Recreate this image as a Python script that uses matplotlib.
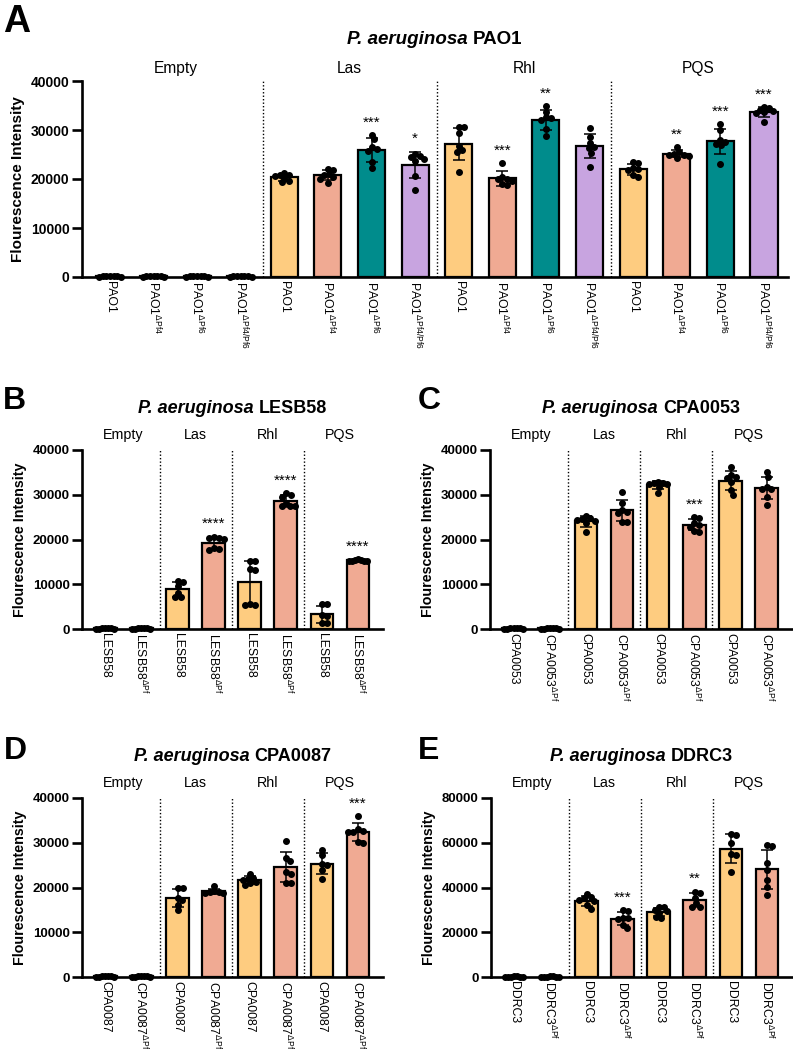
import numpy as np
import matplotlib
matplotlib.use('Agg')
import matplotlib.pyplot as plt
from matplotlib import rc
from matplotlib.offsetbox import TextArea, HPacker, AnnotationBbox

rc('font', family=['Liberation Sans', 'DejaVu Sans'], size=10)
rc('mathtext', default='regular')

YELLOW = '#FECC80'
SALMON = '#F0AA93'
TEAL = '#008C8C'
PURPLE = '#C8A4E0'

groups = ['Empty', 'Las', 'Rhl', 'PQS']

# --- A: PAO1 ---
pao1_labels = ['PAO1', 'PAO1$^{ΔPf4}$', 'PAO1$^{ΔPf6}$', 'PAO1$^{ΔPf4/Pf6}$'] * 4
pao1_vals = [
    [120, 90, 150, 110, 130, 100, 140],
    [110, 130, 90, 150, 120, 100, 140],
    [130, 100, 120, 150, 90, 110, 140],
    [100, 140, 120, 90, 130, 150, 110],
    [21300, 20800, 20900, 20600, 19300, 19600, 20200],
    [22000, 21800, 20500, 20900, 19200, 20100, 21000],
    [29000, 28100, 26600, 26200, 25800, 23400, 22200],
    [25100, 24600, 24100, 23600, 24400, 17800, 20700],
    [30600, 30600, 29300, 26800, 26000, 25600, 21400],
    [23200, 20400, 20100, 19900, 19600, 18800, 18900],
    [34900, 33700, 32600, 32500, 32100, 30300, 28800],
    [30500, 28600, 27300, 26600, 26300, 25400, 22500],
    [23400, 23200, 22200, 21800, 20800, 20500, 22000],
    [26500, 25600, 25200, 24900, 24600, 24300, 25000],
    [31200, 30100, 27900, 27600, 26900, 23100, 27200],
    [34700, 34500, 34100, 33800, 33400, 31700, 33600],
]
pao1_sig = ['', '', '', '', '', '', '***', '*', '', '***', '**', '', '', '**', '***', '***']

# --- B: LESB58 ---
lesb_labels = ['LESB58', 'LESB58$^{ΔPf}$'] * 4
lesb_vals = [
    [110, 140, 90, 130, 120, 100, 150],
    [130, 100, 150, 120, 90, 140, 110],
    [10800, 10600, 9500, 8000, 7100, 7100],
    [20600, 20400, 20200, 18000, 17800, 17700, 20300],
    [15200, 15100, 13400, 13200, 5400, 5500, 5400],
    [30300, 30000, 29600, 27500, 27500, 27400, 28200],
    [5600, 5500, 3200, 1300, 1400, 2800],
    [15600, 15500, 15400, 15300, 15200, 15100, 15300],
]
lesb_sig = ['', '', '', '****', '', '****', '', '****']

# --- C: CPA0053 ---
cpa53_labels = ['CPA0053', 'CPA0053$^{ΔPf}$'] * 4
cpa53_vals = [
    [120, 100, 140, 90, 130, 110, 150],
    [100, 130, 120, 150, 90, 140, 110],
    [25300, 24800, 24400, 24200, 23600, 21600, 24500],
    [30700, 28100, 26500, 26200, 26000, 24000, 23900],
    [32900, 32700, 32400, 32300, 31800, 30300, 32600],
    [25000, 24800, 23600, 22900, 21600, 22000, 23300],
    [36100, 34400, 34000, 33700, 32900, 30000, 31000],
    [35000, 33900, 31800, 31300, 29600, 27700, 31200],
]
cpa53_sig = ['', '', '', '', '', '***', '', '']

# --- D: CPA0087 ---
cpa87_labels = ['CPA0087', 'CPA0087$^{ΔPf}$'] * 4
cpa87_vals = [
    [110, 150, 120, 90, 140, 100, 130],
    [140, 110, 90, 130, 100, 150, 120],
    [20000, 19800, 17600, 17100, 16200, 14900],
    [20300, 19200, 18900, 18800, 18700, 19000],
    [23100, 22200, 21600, 21300, 20900, 20500, 22000],
    [30500, 26500, 26000, 23500, 23100, 21100, 21000],
    [28400, 27200, 25300, 25100, 23800, 22000],
    [35900, 33000, 32700, 32400, 30200, 30000, 32300],
]
cpa87_sig = ['', '', '', '', '', '', '', '***']

# --- E: DDRC3 ---
ddrc3_labels = ['DDRC3', 'DDRC3$^{ΔPf}$'] * 4
ddrc3_vals = [
    [200, 150, 250, 180, 220, 160, 240],
    [170, 230, 190, 250, 150, 210, 200],
    [37100, 35900, 35100, 34400, 32100, 30600, 34000],
    [29900, 29600, 26200, 25800, 23200, 21700, 26500],
    [31400, 31100, 29900, 28700, 26500, 27000, 29500],
    [38100, 37400, 35100, 32900, 31400, 31500],
    [64000, 63500, 55000, 54600, 47100, 60000],
    [59000, 58600, 51100, 47800, 43300, 40400, 36600],
]
ddrc3_sig = ['', '', '', '***', '', '**', '', '']

W, H = 793, 1049
fig = plt.figure(figsize=(W / 100, H / 100), dpi=100)


def px_rect(l, t, r, b):
    return [l / W, 1 - b / H, (r - l) / W, (b - t) / H]


def swarm(vals, px_y, px_x, dot=5.0, max_span=0.5):
    # simple beeswarm: each dot goes as close to the centre as it can without overlap,
    # then squeeze it if it gets wider than the bar
    ys = np.asarray(vals, float) * px_y
    cand = np.concatenate([[0], np.repeat(np.arange(0.5, 40, 0.5), 2) * np.tile([1, -1], 79)])
    placed = []
    offs = np.zeros(len(ys))
    for i in np.argsort(-ys):
        for c in cand:
            if all(np.hypot(c - px, ys[i] - py) >= dot for px, py in placed):
                offs[i] = c
                placed.append((c, ys[i]))
                break
    offs = offs / px_x
    span = offs.max() - offs.min()
    if span > max_span:
        offs = offs * max_span / span
    return offs


def panel(box, letter, letter_xy, strain, labels, vals, sig, colors, ymax, ystep,
          xlim, big=False):
    ax = fig.add_axes(px_rect(*box))
    n = len(vals)
    x = np.arange(n)
    means = np.array([np.mean(v) for v in vals])
    sds = np.array([np.std(v, ddof=1) for v in vals])

    ax.bar(x, means, width=0.62, color=colors, edgecolor='black', linewidth=1.6, zorder=2)
    ax.errorbar(x, means, yerr=sds, fmt='none', ecolor='black', elinewidth=1.1,
                capsize=4.5, capthick=1.1, zorder=3)

    px_x = (box[2] - box[0]) / (xlim[1] - xlim[0])
    px_y = (box[3] - box[1]) / ymax
    for i, v in enumerate(vals):
        offs = swarm(v, px_y, px_x)
        ax.plot(x[i] + offs, v, 'o', color='black', markersize=4, clip_on=False, zorder=4)
        if sig[i]:
            top = max(max(v), means[i] + sds[i])
            ax.annotate(sig[i], xy=(x[i], top), xytext=(0, 4), textcoords='offset points',
                        ha='center', va='bottom', fontsize=11)

    per = n // 4
    for k in range(1, 4):
        ax.axvline(k * per - 0.5, color='black', linestyle=(0, (1, 1.5)), linewidth=1, zorder=1)
    for k, g in enumerate(groups):
        ax.annotate(g, xy=(k * per + (per - 1) / 2, 1), xycoords=('data', 'axes fraction'),
                    xytext=(0, 9 if big else 11), textcoords='offset points',
                    ha='center', va='center', fontsize=11.2 if big else 10.3)

    ax.set_xlim(*xlim)
    ax.set_ylim(0, ymax)
    ax.set_yticks(np.arange(0, ymax + 1, ystep))
    ax.set_xticks(x)
    ax.set_xticklabels(labels, rotation=270, fontsize=8.8)
    for t in ax.get_yticklabels():
        t.set_fontweight('bold')
        t.set_fontsize(10 if big else 9.5)
    ax.tick_params(axis='x', length=0, pad=3)
    ax.tick_params(axis='y', length=7, width=1.9, pad=2)
    for s in ['top', 'right']:
        ax.spines[s].set_visible(False)
    for s in ['left', 'bottom']:
        ax.spines[s].set_linewidth(1.9)
    ax.set_ylabel('Flourescence Intensity', fontweight='bold',
                  fontsize=11 if big else 10.3, labelpad=4)

    fs = 13.5 if big else 13
    title = HPacker(children=[
        TextArea('P. aeruginosa', textprops=dict(fontsize=fs, fontweight='bold', style='italic')),
        TextArea(strain, textprops=dict(fontsize=fs, fontweight='bold')),
    ], align='baseline', pad=0, sep=fs * 0.28)
    ab = AnnotationBbox(title, (0.5, 1), xycoords='axes fraction', xybox=(0, 30),
                        boxcoords='offset points', box_alignment=(0.5, 0.5), frameon=False)
    ax.add_artist(ab)

    fig.text(letter_xy[0] / W, 1 - letter_xy[1] / H, letter, fontsize=27 if big else 23,
             fontweight='bold', ha='left', va='top')
    return ax


four = [YELLOW, SALMON, TEAL, PURPLE] * 4
two = [YELLOW, SALMON] * 4

panel((82, 81, 788, 277), 'A', (3, 4), 'PAO1', pao1_labels, pao1_vals, pao1_sig, four,
      40000, 10000, (-0.64, 15.55), big=True)
panel((82, 450, 383, 629), 'B', (3, 386), 'LESB58', lesb_labels, lesb_vals, lesb_sig, two,
      40000, 10000, (-0.65, 7.7))
panel((490, 450, 792, 629), 'C', (418, 386), 'CPA0053', cpa53_labels, cpa53_vals, cpa53_sig, two,
      40000, 10000, (-0.65, 7.7))
panel((82, 798, 383, 977), 'D', (4, 736), 'CPA0087', cpa87_labels, cpa87_vals, cpa87_sig, two,
      40000, 10000, (-0.65, 7.7))
panel((491, 798, 792, 977), 'E', (418, 736), 'DDRC3', ddrc3_labels, ddrc3_vals, ddrc3_sig, two,
      80000, 20000, (-0.65, 7.7))

fig.savefig('out.png', dpi=100)
